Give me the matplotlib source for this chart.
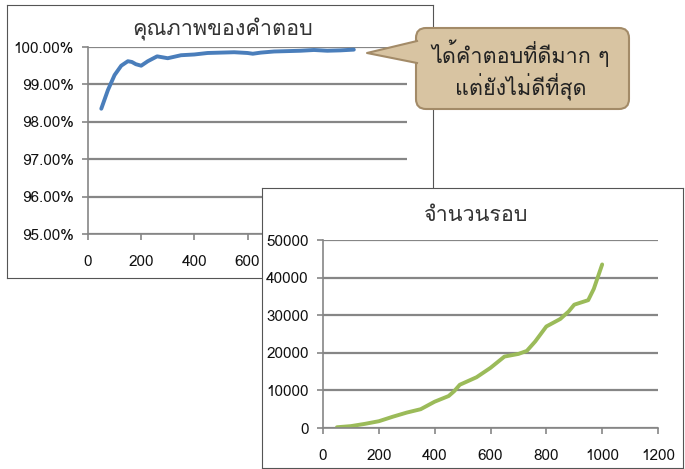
import numpy as np
import matplotlib
matplotlib.use("Agg")
import matplotlib.pyplot as plt
from matplotlib import font_manager
from matplotlib.ft2font import FT2Font
from matplotlib.patches import FancyBboxPatch, Polygon
from matplotlib.ticker import FuncFormatter

# data
rounds_x = [50, 75, 100, 125, 150, 165, 180, 200, 225, 260, 300, 350, 400, 450, 500, 550, 600, 620,
            650, 700, 750, 800, 850, 900, 950, 1000]
quality = [98.35, 98.85, 99.25, 99.5, 99.62, 99.6, 99.54, 99.5, 99.62, 99.75, 99.7, 99.78, 99.8,
           99.84, 99.85, 99.86, 99.84, 99.82, 99.85, 99.88, 99.89, 99.9, 99.92, 99.9, 99.91, 99.93]

count_x = [50, 100, 150, 200, 250, 300, 350, 400, 450, 470, 490, 520, 550, 600, 650, 700, 730,
           760, 800, 850, 880, 900, 950, 970, 1000]
count_y = [200, 500, 1100, 1800, 3000, 4100, 5000, 7000, 8500, 9800, 11500, 12500, 13500, 16000,
           19000, 19700, 20500, 23000, 27000, 29000, 31000, 32800, 34000, 37000, 43500]

title1 = "คุณภาพของคำตอบ"
title2 = "จำนวนรอบ"
note = "ได้คำตอบที่ดีมาก ๆ\nแต่ยังไม่ดีที่สุด"

# find a font with thai glyphs, if any
thai_font = None
for f in font_manager.fontManager.ttflist:
    try:
        if 0x0E04 in FT2Font(f.fname).get_charmap():
            thai_font = f.name
            break
    except Exception:
        pass
fams = ([thai_font] if thai_font else []) + ["DejaVu Sans"]
plt.rcParams["font.family"] = fams

W, H = 685, 469
fig = plt.figure(figsize=(W / 100, H / 100), dpi=100)


def box(x0, y0, x1, y1):
    # pixel box (top-down) to figure fraction rect
    return [x0 / W, 1 - y1 / H, (x1 - x0) / W, (y1 - y0) / H]


def style(ax, ylim, yticks, fmt):
    ax.set_xlim(0, 1200)
    ax.set_ylim(*ylim)
    ax.set_xticks(range(0, 1201, 200))
    ax.set_yticks(yticks)
    ax.yaxis.set_major_formatter(FuncFormatter(fmt))
    ax.grid(axis="y", color="#868686", lw=1.6)
    ax.set_axisbelow(True)
    for s in ["top", "right"]:
        ax.spines[s].set_visible(False)
    for s in ["left", "bottom"]:
        ax.spines[s].set_color("#868686")
        ax.spines[s].set_linewidth(1.2)
    ax.tick_params(colors="#868686", labelcolor="#111111", labelsize=11, length=4.3, width=1.2)
    ax.tick_params(axis="x", pad=11)
    ax.tick_params(axis="y", pad=6)
    ax.patch.set_alpha(0)


# chart 1 frame
fr1 = fig.add_axes(box(7, 5, 433, 278), zorder=1)
fr1.set_xticks([]); fr1.set_yticks([])
for s in fr1.spines.values():
    s.set_color("#555555")
fr1.text(0.505, 0.91, title1, transform=fr1.transAxes, ha="center", va="center", fontsize=15.5, color="#333333")

ax1 = fig.add_axes(box(88, 47, 407, 234), zorder=2)
style(ax1, (95, 100), np.arange(95, 100.1, 1), lambda v, p: f"{v:.2f}%")
ax1.plot(rounds_x, quality, color="#4a7ebb", lw=2.8, solid_capstyle="round", solid_joinstyle="round")

# chart 2 frame (on top of chart 1)
fr2 = fig.add_axes(box(262, 188, 683, 468), zorder=3)
fr2.set_xticks([]); fr2.set_yticks([])
for s in fr2.spines.values():
    s.set_color("#555555")
fr2.text(0.508, 0.9, title2, transform=fr2.transAxes, ha="center", va="center", fontsize=15.5, color="#333333")

ax2 = fig.add_axes(box(323, 240, 658, 428), zorder=4)
style(ax2, (0, 50000), range(0, 50001, 10000), lambda v, p: f"{int(v)}")
ax2.plot(count_x, count_y, color="#9bbb59", lw=2.8, solid_capstyle="round", solid_joinstyle="round")

# callout
ov = fig.add_axes([0, 0, 1, 1], zorder=5)
ov.set_xlim(0, W); ov.set_ylim(H, 0)
ov.axis("off")
face, edge = "#d8c4a2", "#a38b68"
ov.add_patch(FancyBboxPatch((416, 28), 213, 81, boxstyle="round,pad=0,rounding_size=10",
                            fc=face, ec=edge, lw=1.5))
ov.add_patch(Polygon([(367, 53), (418, 41), (418, 63)], closed=True, fc=face, ec="none"))
ov.plot([417, 367, 417], [41, 53, 63], color=edge, lw=1.5)
ov.text(521, 71, note, ha="center", va="center", fontsize=15.5, color="#222222", linespacing=1.25)

fig.savefig("out.png", dpi=100)
